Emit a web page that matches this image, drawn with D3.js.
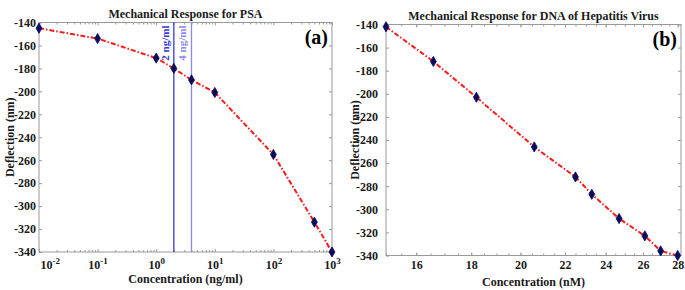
<!DOCTYPE html>
<html>
<head>
<meta charset="utf-8">
<script src="https://cdn.jsdelivr.net/npm/d3@7"></script>
<style>
  body { margin: 0; background: #fff; }
  svg { display: block; }
  text { font-family: "Liberation Serif", "Times New Roman", serif; font-weight: bold; }
</style>
</head>
<body>
<svg id="chart"></svg>
<script>
// panel (a): PSA
const psaConc = [0.01, 0.1, 1, 2, 4, 10, 100, 500, 1000];
const psaDefl = [-145, -154, -171, -180, -190, -201, -255, -314, -340];
const psaDecades = [-2, -1, 0, 1, 2, 3];
const refConc = [2, 4];
const refLabels = ["2 ng/ml", "4 ng/ml"];
const refColors = ["#3838d8", "#8a8aee"];

// panel (b): DNA of hepatitis virus
const hbvConc = [15, 16.6, 18.2, 20.6, 22.5, 23.3, 24.7, 26.1, 27.0, 28.0];
const hbvDefl = [-142, -172, -203, -246, -272, -287, -308, -323, -336, -340];
const hbvTicks = [16, 18, 20, 22, 24, 26, 28];

const yTicks = [-140, -160, -180, -200, -220, -240, -260, -280, -300, -320, -340];

const width = 685, height = 290;
const svg = d3.select("#chart").attr("width", width).attr("height", height);

const boxColor = "#999";
const textColor = "#1a1a1a";

function drawPanel(p) {
    const g = svg.append("g");
    const x = p.x, y = p.y;
    const [x0, x1] = x.range();
    const [y0, y1] = y.range();

    // major / minor ticks, inward on all four sides
    const addAxis = (axis, transform, labels) => {
        const a = g.append("g").attr("transform", transform).call(axis);
        a.select(".domain").remove();
        a.selectAll("line").attr("stroke", boxColor);
        a.selectAll("text")
            .attr("fill", textColor)
            .style("font-size", "12px");
        if (!labels) a.selectAll("text").remove();
        return a;
    };

    addAxis(d3.axisLeft(y).tickValues(yTicks).tickSize(-3).tickPadding(p.yPad).tickFormat(d => String(d)),
        `translate(${x0},0)`, true);
    addAxis(d3.axisRight(y).tickValues(yTicks).tickSize(-3), `translate(${x1},0)`, false);

    addAxis(d3.axisBottom(x).tickValues(p.minor).tickSize(-2), `translate(0,${y0})`, false);
    addAxis(d3.axisTop(x).tickValues(p.minor).tickSize(-2), `translate(0,${y1})`, false);
    const bx = addAxis(d3.axisBottom(x).tickValues(p.major).tickSize(-3).tickPadding(p.xPad).tickFormat(d => String(d)),
        `translate(0,${y0})`, true);
    addAxis(d3.axisTop(x).tickValues(p.major).tickSize(-3), `translate(0,${y1})`, false);
    if (p.fmtSup) {
        bx.selectAll("text").text(null).each(function (d, i) {
            const t = d3.select(this);
            t.append("tspan").text("10");
            t.append("tspan").attr("dy", "-0.45em").style("font-size", "9px").text(Math.round(Math.log10(d)));
            // first label sits just right of the corner, clear of the y labels
            if (i === 0) t.attr("text-anchor", "start").attr("x", 1);
        });
    }

    // box
    g.append("rect")
        .attr("x", x0).attr("y", y1)
        .attr("width", x1 - x0).attr("height", y0 - y1)
        .attr("fill", "none").attr("stroke", boxColor).attr("stroke-width", 1);

    if (p.refs) {
        p.refs.forEach((c, i) => {
            g.append("line")
                .attr("x1", x(c)).attr("x2", x(c))
                .attr("y1", y1).attr("y2", y0)
                .attr("stroke", refColors[i]).attr("stroke-width", 1.3);
            g.append("text")
                .attr("transform", `translate(${x(c) - 5},${y1 + 3}) rotate(-90)`)
                .attr("text-anchor", "end")
                .attr("fill", refColors[i])
                .style("font-size", "11px")
                .text(refLabels[i]);
        });
    }

    const line = d3.line()
        .x((d, i) => x(p.conc[i]))
        .y(d => y(d));

    g.append("path")
        .datum(p.defl)
        .attr("d", line)
        .attr("fill", "none")
        .attr("stroke", "#ff1a1a")
        .attr("stroke-width", 2)
        .attr("stroke-dasharray", "5,2,1.5,2");

    g.selectAll(".pt")
        .data(p.defl)
        .enter()
        .append("path")
        .attr("transform", (d, i) => `translate(${x(p.conc[i])},${y(d)})`)
        .attr("d", d3.symbol(d3.symbolDiamond, 30))
        .attr("fill", "#0b0b5e")
        .attr("stroke", "#0b0b5e")
        .attr("stroke-width", 0.8);

    // texts
    const cx = (x0 + x1) / 2;
    g.append("text")
        .attr("x", cx).attr("y", p.titleY)
        .attr("text-anchor", "middle")
        .attr("fill", textColor)
        .style("font-size", "12px")
        .text(p.title);

    g.append("text")
        .attr("x", cx).attr("y", p.xLabelY)
        .attr("text-anchor", "middle")
        .attr("fill", textColor)
        .style("font-size", "12px")
        .text(p.xLabel);

    g.append("text")
        .attr("transform", `translate(${p.yLabelX},${(y0 + y1) / 2}) rotate(-90)`)
        .attr("text-anchor", "middle")
        .attr("fill", textColor)
        .style("font-size", "12px")
        .text("Deflection (nm)");

    g.append("text")
        .attr("x", x1 - 4).attr("y", y1 + 21)
        .attr("text-anchor", "end")
        .attr("fill", "#000")
        .style("font-size", "20px")
        .text(p.tag);
}

const psaMinor = [];
psaDecades.slice(0, -1).forEach(e => {
    for (let m = 2; m <= 9; m++) psaMinor.push(m * Math.pow(10, e));
});

drawPanel({
    x: d3.scaleLog().domain([0.01, 1000]).range([39, 332]),
    y: d3.scaleLinear().domain([-340, -140]).range([252, 22.5]),
    conc: psaConc, defl: psaDefl,
    major: psaDecades.map(e => Math.pow(10, e)),
    minor: psaMinor,
    fmtSup: true,
    yPad: 3, xPad: 8,
    refs: refConc,
    title: "Mechanical Response for PSA",
    xLabel: "Concentration (ng/ml)",
    tag: "(a)",
    titleY: 18, xLabelY: 283, yLabelX: 14
});

drawPanel({
    x: d3.scaleLog().domain([15, 28.2]).range([386, 681]),
    y: d3.scaleLinear().domain([-340, -140]).range([255.5, 24.5]),
    conc: hbvConc, defl: hbvDefl,
    major: hbvTicks,
    minor: d3.range(15, 28.01, 0.5),
    yPad: 8, xPad: 5,
    title: "Mechanical Response for DNA of Hepatitis Virus",
    xLabel: "Concentration (nM)",
    tag: "(b)",
    titleY: 20, xLabelY: 286, yLabelX: 359
});
</script>
</body>
</html>
